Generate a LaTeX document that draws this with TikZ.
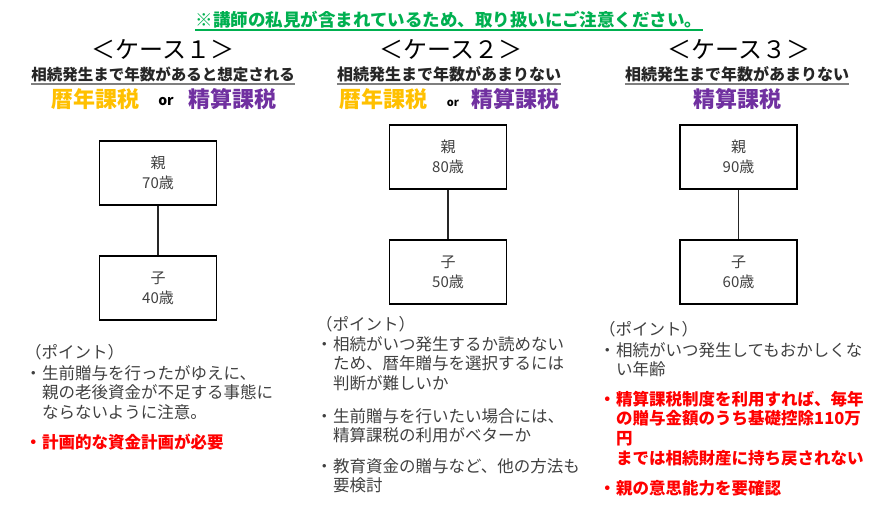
\documentclass[tikz,border=0pt]{standalone}
\usepackage{fontspec}
\setmainfont{Noto Sans CJK JP}
\usepackage{xcolor}
\usetikzlibrary{positioning}
\definecolor{NoticeGreen}{HTML}{00B050}
\definecolor{RekiOrange}{HTML}{FFC000}
\definecolor{SeisanPurple}{HTML}{7030A0}
\definecolor{BodyGray}{HTML}{404040}
\definecolor{RuleGray}{HTML}{7F7F7F}
\definecolor{AlertRed}{HTML}{FF0000}
\newcommand{\bulmark}{\makebox[17pt][l]{・}}
\newcommand{\bulgap}{\hspace*{17pt}}
\tikzset{
  notice/.style={anchor=base, inner sep=0pt, text=NoticeGreen, font=\bfseries\fontsize{17.5}{20}\selectfont},
  noticeline/.style={NoticeGreen, line width=1.2pt},
  casehead/.style={anchor=base, inner sep=0pt, text=black, font=\fontsize{24}{28}\selectfont},
  casesub/.style={anchor=base, inner sep=0pt, text=black!85, font=\bfseries\fontsize{16}{18}\selectfont},
  subline/.style={RuleGray, line width=2.4pt},
  rekitax/.style={anchor=base, inner sep=0pt, text=RekiOrange, font=\bfseries\fontsize{22}{24}\selectfont},
  seisantax/.style={anchor=base, inner sep=0pt, text=SeisanPurple, font=\bfseries\fontsize{22}{24}\selectfont},
  ortext/.style={anchor=base, inner sep=0pt, text=black, font=\bfseries\fontsize{14}{16}\selectfont},
  personbox/.style={rectangle, draw=black, line width=1.6pt, minimum width=117pt, minimum height=64pt, align=center, text=BodyGray, font=\fontsize{15}{20}\selectfont},
  link/.style={black!85, line width=1.6pt},
  % base = baseline of the last line
  pointtext/.style={anchor=base west, inner sep=0pt, align=left, text=BodyGray, font=\fontsize{16.5}{19.7}\selectfont},
  pointred/.style={pointtext, text=AlertRed, font=\bfseries\fontsize{16.5}{19.7}\selectfont}
}
\begin{document}
\begin{tikzpicture}[x=1pt, y=-1pt]
  \useasboundingbox (0,0) rectangle (890,509);
  % notice
  \node[notice] (notice) at (449,26) {※講師の私見が含まれているため、取り扱いにご注意ください。};
  \draw[noticeline] ([yshift=-4pt]notice.base west) -- ([yshift=-4pt]notice.base east);

  % case 1
  \node[casehead] (head1) at (163,58) {＜ケース１＞};
  \node[casesub, font=\bfseries\fontsize{15.5}{18}\selectfont] (sub1) at (163,80) {相続発生まで年数があると想定される};
  \draw[subline] ([yshift=-4pt]sub1.base west) -- ([yshift=-4pt]sub1.base east);
  \node[rekitax] (reki1) at (95,107) {暦年課税};
  \node[ortext] (or1) at (166,105) {or};
  \node[seisantax] (seisan1) at (232,107) {精算課税};
  \node[personbox] (parent1) at (158,173) {親\\70歳};
  \node[personbox] (child1) at (158,288) {子\\40歳};
  \draw[link] (parent1) -- (child1);
  \node[pointtext] (head1p) at (25,358) {（ポイント）};
  \node[pointtext] (c1p1) at (25,418.4) {\bulmark 生前贈与を行ったがゆえに、\\\bulgap 親の老後資金が不足する事態に\\\bulgap ならないように注意。};
  \node[pointred] (c1p2) at (25,448) {\bulmark 計画的な資金計画が必要};

  % case 2
  \node[casehead] (head2) at (451,58) {＜ケース２＞};
  \node[casesub] (sub2) at (449,80) {相続発生まで年数があまりない};
  \draw[subline] ([yshift=-4pt]sub2.base west) -- ([yshift=-4pt]sub2.base east);
  \node[rekitax] (reki2) at (383,107) {暦年課税};
  \node[ortext, font=\bfseries\fontsize{11}{13}\selectfont] (or2) at (453,106) {or};
  \node[seisantax] (seisan2) at (515,107) {精算課税};
  \node[personbox] (parent2) at (448,157) {親\\80歳};
  \node[personbox] (child2) at (448,272) {子\\50歳};
  \draw[link] (parent2) -- (child2);
  \node[pointtext] (head2p) at (316,330) {（ポイント）};
  \node[pointtext] (c2p1) at (316,389.4) {\bulmark 相続がいつ発生するか読めない\\\bulgap ため、暦年贈与を選択するには\\\bulgap 判断が難しいか};
  \node[pointtext] (c2p2) at (316,441.7) {\bulmark 生前贈与を行いたい場合には、\\\bulgap 精算課税の利用がベターか};
  \node[pointtext] (c2p3) at (316,491.7) {\bulmark 教育資金の贈与など、他の方法も\\\bulgap 要検討};

  % case 3
  \node[casehead] (head3) at (739,58) {＜ケース３＞};
  \node[casesub] (sub3) at (737,80) {相続発生まで年数があまりない};
  \draw[subline] ([yshift=-4pt]sub3.base west) -- ([yshift=-4pt]sub3.base east);
  \node[seisantax] (seisan3) at (737,107) {精算課税};
  \node[personbox] (parent3) at (738.5,157) {親\\90歳};
  \node[personbox] (child3) at (738.5,272) {子\\60歳};
  \draw[link] (parent3) -- (child3);
  \node[pointtext] (head3p) at (599,335) {（ポイント）};
  \node[pointtext] (c3p1) at (599,375.7) {\bulmark 相続がいつ発生してもおかしくな\\\bulgap い年齢};
  \node[pointred] (c3p2) at (599,464.1) {\bulmark 精算課税制度を利用すれば、毎年\\\bulgap の贈与金額のうち基礎控除110万\\\bulgap 円\\\bulgap までは相続財産に持ち戻されない};
  \node[pointred] (c3p3) at (599,494) {\bulmark 親の意思能力を要確認};
\end{tikzpicture}
\end{document}
